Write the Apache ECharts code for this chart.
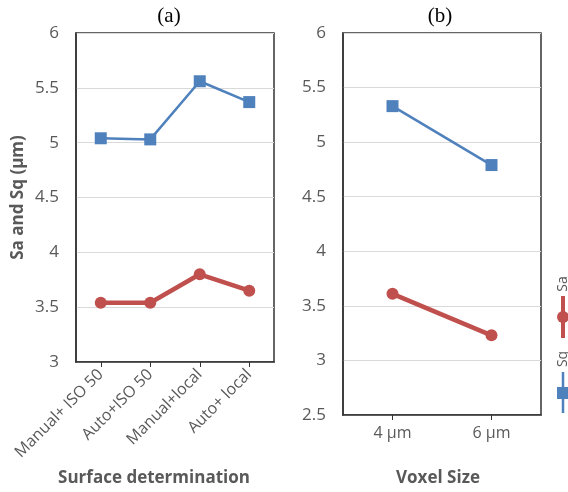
<!DOCTYPE html>
<html>
<head>
<meta charset="utf-8">
<script src="https://cdn.jsdelivr.net/npm/echarts@6/dist/echarts.min.js"></script>
<style>
  html, body { margin: 0; padding: 0; background: #fff; }
  #main { width: 568px; height: 492px; }
</style>
</head>
<body>
<div id="main"></div>
<script>
// panel (a): surface determination
const surface_cats = ["Manual+ ISO 50", "Auto+ISO 50", "Manual+local", "Auto+ local"];
const surface_sq = [5.04, 5.03, 5.56, 5.37];
const surface_sa = [3.54, 3.54, 3.80, 3.65];

// panel (b): voxel size
const voxel_cats = ["4 µm", "6 µm"];
const voxel_sq = [5.33, 4.79];
const voxel_sa = [3.61, 3.23];

const BLUE = "#4f81bd";
const RED = "#c0504d";
const GRAY_TXT = "#595959";
const FONT = "Open Sans";

function yAxis(gridIndex, min, withName) {
  return {
    gridIndex: gridIndex,
    type: "value",
    min: min,
    max: 6,
    interval: 0.5,
    name: withName ? "Sa and Sq (µm)" : "",
    nameLocation: "middle",
    nameGap: 49,
    nameTextStyle: { color: GRAY_TXT, fontFamily: FONT, fontWeight: "bold", fontSize: 17 },
    axisLine: { show: true, lineStyle: { color: "#333", width: 1.5 } },
    axisTick: { show: false },
    axisLabel: { color: GRAY_TXT, fontFamily: FONT, fontSize: 17, margin: 17 },
    splitLine: { lineStyle: { color: "#d9d9d9", width: 1 } },
  };
}

function xAxis(gridIndex, cats, name, nameGap, shift, rotate) {
  return {
    gridIndex: gridIndex,
    type: "category",
    data: cats,
    name: name,
    nameLocation: "middle",
    nameGap: nameGap,
    nameTextStyle: { color: GRAY_TXT, fontFamily: FONT, fontWeight: "bold", fontSize: 17,
      padding: [0, shift * 2, 0, 0] },
    axisLine: { show: true, lineStyle: { color: "#333", width: 1.5 } },
    axisTick: { show: true, alignWithLabel: true, length: 5, lineStyle: { color: "#333" } },
    axisLabel: { color: GRAY_TXT, fontFamily: FONT, fontSize: 16, rotate: rotate, margin: 10, interval: 0 },
    splitLine: { show: false },
  };
}

function sqSeries(idx, data) {
  return {
    name: "Sq", type: "line", xAxisIndex: idx, yAxisIndex: idx, data: data,
    symbol: "rect", symbolSize: 12,
    itemStyle: { color: BLUE }, lineStyle: { color: BLUE, width: 2.5 },
  };
}

function saSeries(idx, data) {
  return {
    name: "Sa", type: "line", xAxisIndex: idx, yAxisIndex: idx, data: data,
    symbol: "circle", symbolSize: 12,
    itemStyle: { color: RED }, lineStyle: { color: RED, width: 4.5 },
  };
}

const chart = echarts.init(document.getElementById("main"));
chart.setOption({
  animation: false,
  title: [
    { text: "(a)", left: 164, top: 1, textAlign: "center",
      textStyle: { fontFamily: "Liberation Serif", fontWeight: "normal", fontSize: 21, color: "#000" } },
    { text: "(b)", left: 435, top: 1, textAlign: "center",
      textStyle: { fontFamily: "Liberation Serif", fontWeight: "normal", fontSize: 21, color: "#000" } },
  ],
  grid: [
    { left: 76, top: 33, width: 198, height: 330, show: true, borderColor: "#333", borderWidth: 1.5 },
    { left: 343, top: 33, width: 198, height: 384, show: true, borderColor: "#333", borderWidth: 1.5 },
  ],
  xAxis: [
    xAxis(0, surface_cats, "Surface determination", 108, 21, 45),
    xAxis(1, voxel_cats, "Voxel Size", 55, 4, 0),
  ],
  yAxis: [yAxis(0, 3, true), yAxis(1, 2.5, false)],
  series: [
    sqSeries(0, surface_sq), saSeries(0, surface_sa),
    sqSeries(1, voxel_sq), saSeries(1, voxel_sa),
  ],
  // legend drawn rotated along the right edge
  graphic: [
    { type: "text", x: 563, y: 284, rotation: Math.PI / 2,
      style: { text: "Sa", fill: GRAY_TXT, font: "14px Open Sans", align: "center", verticalAlign: "middle" } },
    { type: "line", shape: { x1: 563, y1: 296, x2: 563, y2: 338 }, style: { stroke: RED, lineWidth: 4 } },
    { type: "circle", shape: { cx: 563, cy: 317, r: 6 }, style: { fill: RED } },
    { type: "text", x: 563, y: 359, rotation: Math.PI / 2,
      style: { text: "Sq", fill: GRAY_TXT, font: "14px Open Sans", align: "center", verticalAlign: "middle" } },
    { type: "line", shape: { x1: 563, y1: 372, x2: 563, y2: 413 }, style: { stroke: BLUE, lineWidth: 2.5 } },
    { type: "rect", shape: { x: 557, y: 387, width: 12, height: 12 }, style: { fill: BLUE } },
  ],
});
</script>
</body>
</html>
